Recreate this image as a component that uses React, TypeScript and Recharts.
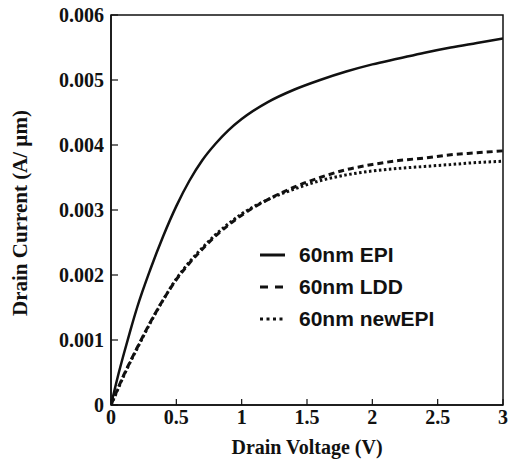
import { Label, Legend, Line, LineChart, ReferenceArea, XAxis, YAxis } from "recharts";

// drain voltage (V)
const voltage = [0, 0.05, 0.1, 0.15, 0.2, 0.3, 0.4, 0.5, 0.6, 0.7, 0.8, 0.9, 1.0, 1.2, 1.4, 1.6, 1.8, 2.0, 2.2, 2.4, 2.6, 2.8, 3.0];

// drain current (A/um)
const epi = [0, 0.00042, 0.0008, 0.00116, 0.0015, 0.00208, 0.0026, 0.00306, 0.00345, 0.00377, 0.00402, 0.00423, 0.0044, 0.00466, 0.00485, 0.005, 0.00513, 0.00524, 0.00533, 0.00542, 0.0055, 0.00557, 0.00564];
const ldd = [0, 0.00024, 0.00047, 0.00068, 0.00088, 0.00127, 0.00162, 0.00193, 0.00218, 0.0024, 0.0026, 0.00277, 0.00292, 0.00316, 0.00335, 0.0035, 0.00362, 0.0037, 0.00376, 0.0038, 0.00385, 0.00388, 0.00391];
const newEpi = [0, 0.00023, 0.00046, 0.00067, 0.00087, 0.00126, 0.00162, 0.00194, 0.0022, 0.00242, 0.00262, 0.00279, 0.00294, 0.00316, 0.00332, 0.00345, 0.00354, 0.0036, 0.00364, 0.00367, 0.0037, 0.00373, 0.00375];

const xTicks = [0, 0.5, 1, 1.5, 2, 2.5, 3];
const yTicks = [0, 0.001, 0.002, 0.003, 0.004, 0.005, 0.006];
const xMinor = Array.from({ length: 31 }, (_, i) => +(i * 0.1).toFixed(1));
const yMinor = Array.from({ length: 31 }, (_, i) => +(i * 0.0002).toFixed(4));

const seriesNames = ["60nm EPI", "60nm LDD", "60nm newEPI"];

const data = voltage.map((v, i) => ({ v, epi: epi[i], ldd: ldd[i], newEpi: newEpi[i] }));

const INK = "#111";
const SERIF = "'Liberation Serif', 'Times New Roman', serif";
const SANS = "'Liberation Sans', Arial, sans-serif";

const series = [
	{ key: "epi", name: seriesNames[0], dash: undefined, width: 2.5, legendDash: undefined },
	{ key: "ldd", name: seriesNames[1], dash: "6 4", width: 3, legendDash: "8 7" },
	{ key: "newEpi", name: seriesNames[2], dash: "2.5 2.5", width: 3, legendDash: "3 3.5" },
];

function YTitle(props: any) {
	const { viewBox } = props;
	const cx = viewBox.x + 20;
	const cy = viewBox.y + viewBox.height / 2 + 3;
	return (
		<text
			x={cx}
			y={cy}
			transform={`rotate(-90 ${cx} ${cy})`}
			textAnchor="middle"
			dominantBaseline="central"
			fontFamily={SERIF}
			fontWeight="bold"
			fontSize={21}
			fill={INK}
		>
			Drain Current (A/ µm)
		</text>
	);
}

function XTitle(props: any) {
	const { viewBox } = props;
	return (
		<text
			x={viewBox.x + viewBox.width / 2}
			y={viewBox.y + 42}
			textAnchor="middle"
			dominantBaseline="central"
			fontFamily={SERIF}
			fontWeight="bold"
			fontSize={20}
			fill={INK}
		>
			Drain Voltage (V)
		</text>
	);
}

function LegendBox() {
	return (
		<div style={{ fontFamily: SANS, fontWeight: "bold", fontSize: 21, color: INK }}>
			{series.map((s) => (
				<div key={s.key} style={{ display: "flex", alignItems: "center", height: 32 }}>
					<svg width={30} height={10} style={{ marginRight: 11 }}>
						<line x1={2} y1={5} x2={27} y2={5} stroke={INK} strokeWidth={3} strokeDasharray={s.legendDash} />
					</svg>
					<span>{s.name}</span>
				</div>
			))}
		</div>
	);
}

export default function App() {
	return (
		<div style={{ position: "absolute", left: 0, top: 0, width: 511, height: 466, background: "#fff" }}>
			<LineChart width={511} height={466} data={data} margin={{ top: 15, right: 8, left: 0, bottom: 0 }}>
				<XAxis
					xAxisId="minor"
					dataKey="v"
					type="number"
					domain={[0, 3]}
					allowDataOverflow
					ticks={xMinor}
					tick={false}
					tickSize={-3}
					axisLine={false}
					tickLine={{ stroke: INK, strokeWidth: 1 }}
					height={0}
				/>
				<XAxis
					dataKey="v"
					type="number"
					domain={[0, 3]}
					allowDataOverflow
					ticks={xTicks}
					tickSize={-6}
					tickMargin={11}
					height={61}
					axisLine={{ stroke: INK, strokeWidth: 1.5 }}
					tickLine={{ stroke: INK, strokeWidth: 1.2 }}
					tick={{ fill: INK, fontFamily: SERIF, fontWeight: "bold", fontSize: 20 }}
					label={<Label content={XTitle} />}
				/>
				<YAxis
					yAxisId="minor"
					type="number"
					domain={[0, 0.006]}
					allowDataOverflow
					ticks={yMinor}
					tick={false}
					tickSize={-4}
					axisLine={false}
					tickLine={{ stroke: INK, strokeWidth: 1 }}
					width={0}
				/>
				<YAxis
					type="number"
					domain={[0, 0.006]}
					allowDataOverflow
					ticks={yTicks}
					tickSize={-7}
					tickMargin={14}
					width={111}
					axisLine={{ stroke: INK, strokeWidth: 1.5 }}
					tickLine={{ stroke: INK, strokeWidth: 1.2 }}
					tick={{ fill: INK, fontFamily: SERIF, fontWeight: "bold", fontSize: 20 }}
					label={<Label content={YTitle} />}
				/>
				<ReferenceArea x1={0} x2={3} y1={0} y2={0.006} fill="none" stroke={INK} strokeWidth={1.5} />
				{series.map((s) => (
					<Line
						key={s.key}
						dataKey={s.key}
						name={s.name}
						type="monotone"
						stroke={INK}
						strokeWidth={s.width}
						strokeDasharray={s.dash}
						dot={false}
						activeDot={false}
						isAnimationActive={false}
					/>
				))}
				<Legend
					layout="vertical"
					align="center"
					verticalAlign="middle"
					content={LegendBox}
					wrapperStyle={{ left: 258, top: 239, width: "auto" }}
				/>
			</LineChart>
		</div>
	);
}
